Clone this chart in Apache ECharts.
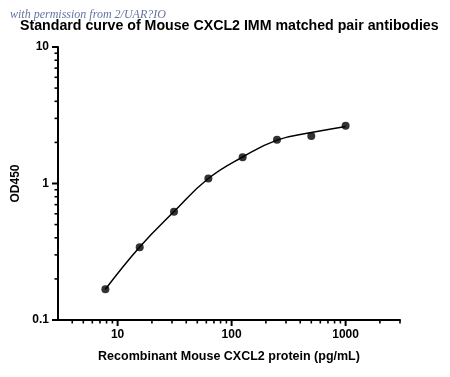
<!DOCTYPE html>
<html>
<head>
<meta charset="utf-8">
<script src="https://cdn.jsdelivr.net/npm/echarts@6/dist/echarts.min.js"></script>
<style>html,body{margin:0;padding:0;background:#fff;}#c{width:450px;height:377px;}</style>
</head>
<body>
<div id="c"></div>
<script>
// Measured data points
var concentrations = [7.8125, 15.625, 31.25, 62.5, 125, 250, 500, 1000];
var od450 = [0.168, 0.341, 0.621, 1.09, 1.56, 2.09, 2.23, 2.65];
// Fitted standard curve at each concentration
var curveConcentrations = [7.8125, 15.625, 31.25, 62.5, 125, 250, 500, 1000];
var curveOD450 = [0.168, 0.343, 0.623, 1.088, 1.564, 2.08, 2.36, 2.62];
// Axis tick values
var xMajorTicks = [10, 100, 1000];
var xMinorTicks = [4, 5, 6, 7, 8, 9, 20, 30, 40, 50, 60, 70, 80, 90, 200, 300, 400, 500, 600, 700, 800, 900, 2000, 3000];
var yMajorTicks = [0.1, 1, 10];
var yMinorTicks = [0.2, 0.3, 0.4, 0.5, 0.6, 0.7, 0.8, 0.9, 2, 3, 4, 5, 6, 7, 8, 9];
var xRange = [3, 3000];
var yRange = [0.1, 10];

function isMajor(v, list) {
  for (var i = 0; i < list.length; i++) if (Math.abs(v - list[i]) / list[i] < 1e-6) return true;
  return false;
}

var xTickData = xMajorTicks.map(function (v) { return [v, yRange[0], 1]; })
  .concat(xMinorTicks.map(function (v) { return [v, yRange[0], 0]; }));
var yTickData = yMajorTicks.map(function (v) { return [xRange[0], v, 1]; })
  .concat(yMinorTicks.map(function (v) { return [xRange[0], v, 0]; }));

var chart = echarts.init(document.getElementById('c'), null, { renderer: 'canvas' });
var font = 'Liberation Sans, Arial, sans-serif';
chart.setOption({
  animation: false,
  backgroundColor: '#ffffff',
  title: {
    text: 'Standard curve of Mouse CXCL2 IMM matched pair antibodies',
    left: 15,
    top: 14,
    textStyle: { fontFamily: font, fontWeight: 'bold', fontSize: 14.2, color: '#000' }
  },
  graphic: [{
    type: 'text',
    left: 10,
    top: 9,
    z: 100,
    silent: true,
    style: {
      text: 'with permission from 2/UAR?IO',
      font: 'italic 12px "Liberation Serif", serif',
      fill: 'rgba(70,90,145,0.85)'
    }
  }],
  grid: { left: 58, right: 50, top: 47, bottom: 57, containLabel: false },
  xAxis: {
    type: 'log',
    logBase: 10,
    min: xRange[0],
    max: xRange[1],
    name: 'Recombinant Mouse CXCL2 protein (pg/mL)',
    nameLocation: 'middle',
    nameGap: 30,
    nameTextStyle: { fontFamily: font, fontWeight: 'bold', fontSize: 12.5, color: '#000' },
    axisLine: { lineStyle: { color: '#000', width: 2 } },
    axisTick: { show: false },
    minorTick: { show: false },
    splitLine: { show: false },
    axisLabel: {
      margin: 9,
      fontFamily: font, fontWeight: 'bold', fontSize: 12, color: '#000',
      formatter: function (v) { return isMajor(v, xMajorTicks) ? String(Math.round(v)) : ''; }
    }
  },
  yAxis: {
    type: 'log',
    logBase: 10,
    min: yRange[0],
    max: yRange[1],
    name: 'OD450',
    nameLocation: 'middle',
    nameGap: 30,
    nameTextStyle: { fontFamily: font, fontWeight: 'bold', fontSize: 12, color: '#000' },
    axisLine: { lineStyle: { color: '#000', width: 2 } },
    axisTick: { show: false },
    minorTick: { show: false },
    splitLine: { show: false },
    axisLabel: {
      margin: 9,
      fontFamily: font, fontWeight: 'bold', fontSize: 12, color: '#000',
      formatter: function (v) {
        if (!isMajor(v, yMajorTicks)) return '';
        return v < 1 ? '0.1' : String(Math.round(v));
      }
    }
  },
  series: [
    {
      type: 'line',
      data: curveConcentrations.map(function (c, i) { return [c, curveOD450[i]]; }),
      smooth: 0.45,
      showSymbol: false,
      symbol: 'none',
      lineStyle: { color: '#000', width: 1.5 },
      z: 4
    },
    {
      type: 'scatter',
      data: concentrations.map(function (c, i) { return [c, od450[i]]; }),
      symbol: 'circle',
      symbolSize: 8,
      itemStyle: { color: '#000' },
      z: 5
    },
    {
      type: 'custom',
      clip: false,
      silent: true,
      data: xTickData,
      renderItem: function (params, api) {
        var p = api.coord([api.value(0), api.value(1)]);
        var len = api.value(2) ? 6 : 3.5;
        return { type: 'line', shape: { x1: p[0], y1: p[1], x2: p[0], y2: p[1] + len },
          style: { stroke: '#000', lineWidth: api.value(2) ? 2 : 1.6 } };
      }
    },
    {
      type: 'custom',
      clip: false,
      silent: true,
      data: yTickData,
      renderItem: function (params, api) {
        var p = api.coord([api.value(0), api.value(1)]);
        var len = api.value(2) ? 6 : 3.5;
        return { type: 'line', shape: { x1: p[0], y1: p[1], x2: p[0] - len, y2: p[1] },
          style: { stroke: '#000', lineWidth: api.value(2) ? 2 : 1.6 } };
      }
    }
  ]
});
</script>
</body>
</html>
